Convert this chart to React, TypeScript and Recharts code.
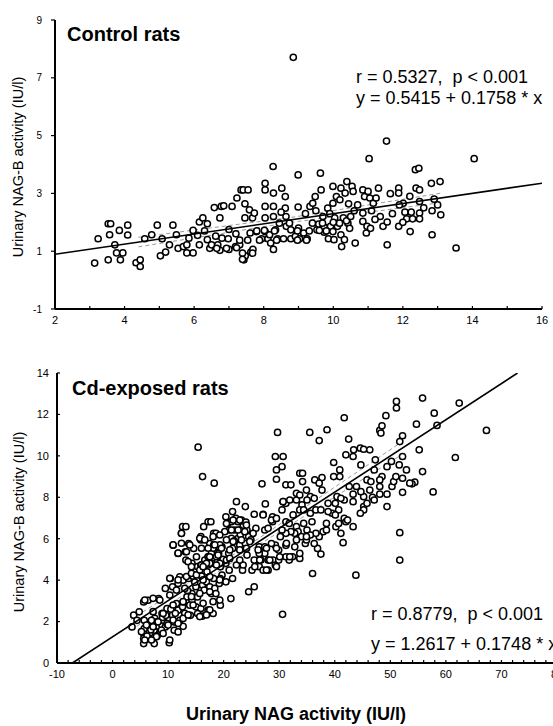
import React from 'react';
import { ScatterChart, Scatter, XAxis, YAxis } from 'recharts';

// ---------- DATA ----------
const controlPoints: [number, number][] = [
  [3.14,0.59],[3.24,1.43],[3.53,1.95],[3.6,1.95],[3.57,1.57],[3.53,0.7],[3.72,1.22],[3.77,0.94],[3.85,1.72],[3.88,0.7],
  [3.95,0.94],[4.09,1.9],[4.09,1.56],[4.33,0.6],[4.45,0.7],[4.45,0.47],[4.58,1.43],[4.78,1.57],[4.94,1.9],[5.03,0.84],
  [5.08,1.43],[5.18,0.97],[5.29,1.22],[5.39,1.9],[5.49,1.57],[5.54,1.1],[5.69,1.16],[5.79,0.94],[5.79,1.22],[5.97,0.94],
  [5.97,1.72],[6.15,1.22],[6.15,2.01],[6.25,2.15],[6.38,1.95],[6.38,1.4],[6.45,1.1],[6.5,1.22],[6.58,2.51],[6.62,1.52],
  [6.68,1.22],[6.74,2.15],[6.78,2.55],[6.74,1.03],[6.85,2.57],[6.98,1.43],[7.0,1.06],[7.09,2.55],[7.19,1.16],[7.23,2.84],
  [7.31,1.22],[7.35,3.12],[7.41,3.12],[7.46,2.64],[7.43,0.7],[7.46,2.15],[7.47,0.84],[7.55,3.12],[7.59,2.43],[7.61,1.63],
  [7.63,0.97],[7.68,2.15],[7.69,1.06],[7.73,2.32],[7.79,1.68],[7.94,1.43],[8.04,3.35],[8.04,3.12],[8.04,2.55],[8.04,2.15],
  [8.04,1.68],[8.12,1.43],[8.17,1.57],[8.2,1.28],[8.27,3.93],[8.28,3.01],[8.28,2.55],[8.28,2.2],[8.28,1.06],[8.34,1.74],
  [8.4,1.43],[8.52,3.18],[8.57,1.43],[8.62,2.89],[8.62,2.49],[8.64,2.2],[8.65,1.86],[8.78,1.43],[8.78,1.74],[8.85,7.71],
  [8.91,1.51],[8.99,3.64],[8.99,2.53],[9.0,1.8],[9.03,1.43],[9.15,1.63],[9.25,1.43],[9.33,2.55],[9.41,2.66],[9.48,2.89],
  [9.53,1.74],[9.58,1.94],[9.63,3.7],[9.65,3.12],[9.7,2.2],[9.74,1.83],[9.74,1.66],[9.84,2.49],[9.86,1.43],[9.92,1.86],
  [9.99,3.24],[9.99,2.66],[9.99,1.68],[10.02,1.4],[10.04,2.15],[10.09,2.89],[10.12,1.86],[10.19,2.78],[10.22,3.18],[10.22,1.57],
  [10.24,1.16],[10.29,2.15],[10.32,1.4],[10.34,3.01],[10.39,3.41],[10.42,1.97],[10.44,2.64],[10.47,1.79],[10.54,3.24],[10.57,3.07],
  [10.63,1.28],[10.85,3.12],[10.85,2.32],[10.85,2.03],[10.9,2.89],[10.95,1.63],[10.97,1.86],[11.0,3.07],[11.03,4.2],[11.05,2.84],
  [11.07,1.79],[11.15,2.66],[11.23,2.84],[11.3,3.18],[11.35,2.2],[11.43,1.86],[11.53,4.81],[11.55,2.01],[11.55,1.22],[11.64,2.99],
  [11.88,3.18],[11.88,3.01],[11.88,1.86],[12.01,2.66],[12.06,2.35],[12.11,2.12],[12.21,1.68],[12.24,2.35],[12.28,2.12],[12.36,3.82],
  [12.38,3.18],[12.46,3.87],[12.48,3.12],[12.48,2.72],[12.48,2.32],[12.48,2.12],[12.82,3.35],[12.84,2.4],[12.84,1.57],[13.07,3.41],
  [13.09,2.26],[13.53,1.11],[14.05,4.2],
  [7.31,1.38],[7.54,1.38],[7.88,1.38],[8.37,1.38],[8.97,1.38],[9.23,1.38],[7.8,1.7],[8.02,1.72],[8.31,1.7],[8.97,1.7],
  [9.31,1.7],[9.6,1.72],[9.8,1.7],[8.45,1.97],[8.74,1.97],[9.4,1.97],[9.69,1.97],[10.18,1.97],[10.38,2.05],[6.65,1.1],
  [6.93,1.1],[7.22,1.12],[7.39,0.93],[7.68,0.93],[7.39,0.72],[10.6,2.4],[10.7,2.6],[11.1,2.4],[11.9,2.6],[12.2,2.9],
  [9.9,2.3],[9.5,2.4],[9.2,2.3],[8.5,2.35],[6.3,1.7],[6.1,1.55],[5.85,1.45],[7.0,1.75],[7.2,1.6],[6.8,1.45],
  [10.0,2.0],[10.5,2.2],[11.2,2.1],[11.7,2.3],[12.0,2.0],[12.6,2.5],[13.0,2.6],[12.9,2.8],
];

const cdPoints: [number, number][] = [
  [15.4,10.42],[16.2,9.0],[18.3,8.68],[29.7,11.13],[29.3,9.97],[30.7,9.97],[30.5,9.48],[29.5,9.32],[29.5,8.87],[26.9,8.65],
  [27.5,7.68],[27.1,7.18],[25.5,7.18],[35.5,11.13],[37.2,10.74],[38.6,11.26],[41.7,11.84],[42.5,10.81],[42.0,10.05],[43.3,9.97],
  [43.4,10.29],[44.6,10.37],[45.2,10.32],[46.3,10.29],[39.8,9.68],[40.9,9.32],[39.8,9.0],[40.9,9.0],[44.7,9.56],[33.7,9.16],
  [34.2,9.16],[34.2,8.76],[36.4,8.84],[37.7,8.95],[31.2,8.6],[32.1,8.6],[47.3,9.81],[48.1,11.23],[48.5,11.45],[48.3,11.1],
  [49.2,11.94],[51.1,12.63],[51.1,12.31],[52.2,10.97],[51.7,10.69],[52.2,9.97],[51.6,9.56],[54.7,11.53],[55.8,12.79],[55.2,10.29],
  [55.8,9.24],[57.9,12.06],[58.4,11.47],[62.4,12.55],[61.7,9.92],[67.3,11.23],[57.7,8.26],[52.2,8.24],[54.4,8.73],[53.9,8.65],
  [49.4,8.15],[48.1,8.15],[48.5,9.0],[48.1,8.84],[49.4,7.55],[45.2,7.55],[45.2,7.39],[46.3,8.35],[46.8,8.0],[45.2,8.03],
  [44.7,8.27],[43.3,8.15],[43.3,7.79],[51.7,6.29],[51.7,4.97],[43.8,4.24],[36.0,4.32],[30.6,2.35],[41.7,7.87],[41.7,6.98],
  [42.0,6.82],[41.1,6.26],[41.5,5.81],[40.2,6.58],[37.9,6.34],[37.2,6.1],[37.7,8.35],[37.2,8.68],[38.8,7.71],[40.1,7.71],
  [40.4,8.03],[40.7,7.39],[39.5,7.23],[41.1,7.95],[35.6,8.03],[36.3,7.95],[35.0,7.87],[33.1,8.19],[33.1,7.87],[34.1,7.63],
  [33.7,7.39],[35.6,7.23],[35.9,6.82],[34.4,6.74],[35.0,6.42],[33.1,6.58],[33.4,6.34],[34.0,6.1],[32.8,6.26],[32.1,6.34],
  [31.2,6.26],[36.9,5.53],[37.5,5.26],[33.7,5.05],[32.4,5.13],[31.8,4.97],[31.2,5.68],[29.9,5.45],[29.3,5.69],[28.6,5.77],
  [28.9,4.97],[29.3,4.73],[28.0,4.97],[27.4,5.29],[26.7,4.97],[26.4,5.29],[26.4,5.61],[27.4,5.61],[30.2,6.1],[30.5,6.42],
  [31.2,6.82],[30.5,7.39],[30.7,7.79],[31.2,7.71],[28.8,7.06],[28.8,6.82],[27.4,6.42],[28.0,6.5],[25.8,6.5],[25.1,4.48],
  [25.5,3.68],[24.5,3.44],[23.4,4.48],[23.5,4.73],[21.6,4.08],[21.3,3.11],[19.4,2.79],[18.1,2.39],[17.2,2.55],[16.1,2.26],
  [10.2,0.98],
  [12.6,6.58],[13.2,6.58],[12.4,6.26],[10.9,5.69],[11.8,5.29],[13.1,5.37],[13.2,4.97],[13.7,5.77],[14.3,4.81],[14.6,5.53],
  [15.3,4.65],[15.9,5.94],[15.9,6.1],[16.4,6.58],[17.2,6.82],[17.7,6.82],[18.2,6.26],[18.6,6.26],[17.5,5.77],[18.2,5.69],
  [18.6,5.61],[19.7,5.61],[19.1,5.29],[17.8,5.29],[17.2,5.13],[16.6,4.97],[15.9,4.73],[17.2,4.73],[17.8,4.81],[19.4,4.65],
  [19.7,4.24],[19.4,4.08],[20.4,7.06],[20.7,6.74],[21.0,6.42],[21.4,6.02],[21.4,6.82],[21.6,7.31],[22.3,7.79],[22.2,6.98],
  [22.6,6.82],[23.2,6.9],[23.9,7.55],[23.5,6.58],[22.9,6.42],[22.6,6.02],[22.9,5.69],[21.6,5.53],[22.0,6.42],[24.2,6.42],
  [24.5,6.1],[23.9,5.77],[24.9,5.94],[24.2,5.21],
  [5.6,1.42],[5.6,0.94],[5.6,1.18],[5.7,1.66],[6.4,1.9],[6.7,1.18],[7.5,0.94],[7.6,1.26],[7.5,1.58],[8.3,1.77],
  [8.6,1.5],[8.9,1.82],[9.2,2.06],[9.5,1.74],[10.2,2.15],[9.8,1.9],[10.8,2.31],[11.1,1.98],[11.1,1.58],[11.8,1.5],
  [12.7,1.77],[12.1,2.06],[11.8,2.55],[12.6,2.71],[11.5,2.87],[12.7,2.95],[13.4,3.19],[14.3,3.35],[14.3,3.03],[15.3,3.19],
  [15.9,3.52],[15.0,3.68],[16.2,3.76],[16.9,3.92],[16.5,3.52],[17.5,3.68],[17.8,3.35],[18.4,3.6],[18.6,3.35],[18.2,4.08],
  [19.2,3.84],[15.0,2.71],[15.9,2.63],[13.9,2.79],[15.3,2.39],[9.8,2.63],[8.9,2.39],[7.6,2.15],[7.0,2.06],[5.7,2.06],
  [5.6,2.95],[6.4,3.03],[8.3,3.11],[9.5,3.6],[10.4,4.08],[10.8,3.68],[11.8,3.84],[12.1,4.16],[12.7,4.0],[13.7,4.08],
  [14.5,4.19],[3.8,2.31],[4.8,2.47],[3.5,1.74],[4.4,2.06],
  [20.4,3.92],[21.0,4.48],[20.4,4.81],[22.3,4.73],[22.9,4.97],[25.5,4.97],[26.4,4.65],[27.1,4.48],[28.0,4.48],[29.9,4.97],
  [31.2,5.13],[32.8,5.61],[34.7,5.77],[36.3,5.77],
  [31.8,6.74],[32.5,7.15],[34.4,7.39],[36.6,7.39],[37.5,7.39],[38.8,7.31],[40.1,7.15],[42.6,8.52],[43.9,8.52],[45.8,8.84],
  [47.1,9.32],[46.5,8.76],[49.4,9.48],[50.2,9.73],
  [40.7,6.74],[42.3,6.9],[43.3,6.58],[44.6,7.23],[45.8,7.71],[47.1,7.87],[48.1,8.52],[50.3,8.52],[50.6,8.76],[51.0,9.0],
  [52.9,9.32],[53.5,8.68],[52.2,8.92],[38.5,6.42],[38.5,6.74],[36.6,6.26],[35.6,6.18],[34.9,5.94],
  [6.2,1.3],[6.9,1.6],[8.0,1.3],[8.1,2.0],[9.0,2.2],[9.6,2.3],[10.5,2.6],[11.3,2.4],[13.0,2.4],[14.0,2.3],
  [13.5,3.5],[14.8,3.9],[16.0,4.2],[17.0,4.4],[18.9,4.9],[19.9,5.0],[20.9,5.3],[21.9,5.9],[23.0,6.2],[24.0,6.8],
  [12.4,6.26],[10.9,5.7],[12.4,5.78],[13.9,5.7],[15.7,6.02],[16.0,5.54],[11.8,5.3],[13.3,5.37],[15.1,5.13],[17.2,5.13],
  [18.1,5.54],[19.3,5.7],[18.7,5.13],[13.6,4.89],[14.2,4.65],[16.0,4.73],[17.5,4.81],[19.3,4.81],[20.5,4.97],[10.3,4.09],
  [11.8,4.01],[13.3,4.17],[14.2,4.33],[15.1,4.25],[16.3,4.01],[17.5,4.17],[19.3,4.01],[5.8,3.04],[7.3,3.12],[8.5,3.04],
  [10.3,3.28],[11.5,3.52],[13.0,3.6],[7.3,2.48],[9.1,2.39],[10.9,2.8],[12.7,2.96],[14.2,3.2],[15.7,3.36],[17.5,3.44],
  [14.5,2.8],[16.3,2.88],[18.1,2.96],[19.3,3.04],[15.7,2.24],[17.5,2.56],[16.9,2.32],[5.2,1.51],[6.1,1.83],[7.3,1.75],
  [8.2,1.99],[8.8,1.59],[10.0,1.83],[10.9,2.07],[11.8,1.91],[12.7,2.15],[13.6,2.32],[7.9,1.27],[10.3,1.11],[7.0,1.11],
  [5.8,1.11],[9.1,1.43],
  [20.5,6.73],[21.7,6.9],[22.9,6.9],[24.1,6.66],[21.4,6.42],[22.6,6.42],[23.8,6.34],[25.3,6.26],[20.2,6.34],[19.3,6.18],
  [18.1,6.1],[16.6,5.94],[20.5,5.94],[21.7,5.86],[23.2,5.94],[24.7,5.86],[18.4,5.7],[17.2,5.54],[19.6,5.54],[21.1,5.46],
  [22.9,5.46],[24.1,5.54],[17.5,5.13],[19.0,5.21],[21.1,5.05],[16.9,4.81],[18.7,4.73],[15.7,4.49],[16.3,4.65],
  [26.2,5.46],[27.7,5.54],[29.5,5.54],[31.3,5.78],[33.1,5.94],[34.9,6.1],[26.5,4.97],[28.3,4.97],[30.1,5.13],[31.9,5.13],
  [33.7,5.29],[25.6,4.65],[27.7,4.49],[29.5,4.65],
  [30.7,7.79],[31.9,7.87],[33.7,8.11],[34.9,8.35],[27.1,7.15],[28.6,6.9],[29.5,6.98],
];

const controlFit: [number, number][] = [[2, 0.893], [16, 3.354]];
const controlBandUpper: [number, number][] = [[4.4, 1.48], [8.8, 2.17], [13.1, 3.01]];
const controlBandLower: [number, number][] = [[4.4, 1.15], [8.8, 2.0], [13.1, 2.68]];
const cdFit: [number, number][] = [[-7.22, 0], [72.9, 14]];
const cdBandUpper: [number, number][] = [[3.3, 2.1], [25, 5.78], [52.5, 10.75]];
const cdBandLower: [number, number][] = [[3.3, 1.58], [25, 5.48], [52.5, 10.13]];

const controlXTicks = [2,3,4,5,6,7,8,9,10,11,12,13,14,15,16];
const controlYTicks = [-1, 1, 3, 5, 7, 9];
const cdXTicks = [-10,-8,-6,-4,-2,0,2,4,6,8,10,12,14,16,18,20,22,24,26,28,30,32,34,36,38,40,42,44,46,48,50,52,54,56,58,60,62,64,66,68,70,72,74,76,78,80];
const cdYTicks = [0, 2, 4, 6, 8, 10, 12, 14];

const FONT = '"Liberation Sans", Arial, Helvetica, sans-serif';

const toXY = (arr: [number, number][]) => arr.map(([x, y]) => ({ x, y }));

const circle = (props: any) => {
  const { cx, cy } = props;
  if (cx == null || cy == null) return <g />;
  return <circle cx={cx} cy={cy} r={3.1} fill="#fff" stroke="#000" strokeWidth={1.5} />;
};
const noShape = () => <g />;

const makeXTick = (every: number, fs: number) => (props: any) => {
  const { x, y, payload } = props;
  const v = payload.value;
  const major = Math.abs(v % every) < 1e-9;
  return (
    <g>
      <line x1={x} x2={x} y1={y} y2={y - 3} stroke="#000" strokeWidth={1.2} />
      {major && (
        <text x={x} y={y + 15} textAnchor="middle" fontSize={fs} fontFamily={FONT} fill="#000">
          {v}
        </text>
      )}
    </g>
  );
};

const makeYTick = (gap: number, fs: number, outward: boolean) => (props: any) => {
  const { x, y, payload } = props;
  return (
    <g>
      <line x1={x} x2={outward ? x - 4 : x + 3} y1={y} y2={y} stroke="#000" strokeWidth={1.2} />
      <text x={x - gap} y={y} dy="0.35em" textAnchor="end" fontSize={fs} fontFamily={FONT} fill="#000">
        {payload.value}
      </text>
    </g>
  );
};

const fitLine = { stroke: '#000', strokeWidth: 1.6 };
const bandLine = { stroke: '#9a9a9a', strokeWidth: 1, strokeDasharray: '4 3' };

export default function App() {
  return (
    <div style={{ position: 'absolute', left: 0, top: 0, width: 553, height: 726, overflow: 'hidden', background: '#fff', fontFamily: FONT }}>
      <div style={{ position: 'absolute', left: 0, top: 0 }}>
        <ScatterChart width={553} height={340} margin={{ top: 20, right: 11, left: 10, bottom: 6 }}>
          <XAxis
            type="number"
            dataKey="x"
            domain={[2, 16]}
            ticks={controlXTicks}
            interval={0}
            height={25}
            tickSize={0}
            tickMargin={0}
            tickLine={false}
            axisLine={{ stroke: '#000', strokeWidth: 2 }}
            tick={makeXTick(2, 11)}
            allowDataOverflow
          />
          <YAxis
            type="number"
            dataKey="y"
            domain={[-1, 9]}
            ticks={controlYTicks}
            interval={0}
            width={45}
            tickSize={0}
            tickMargin={0}
            tickLine={false}
            axisLine={{ stroke: '#000', strokeWidth: 2 }}
            tick={makeYTick(13, 10, true)}
            allowDataOverflow
          />
          <Scatter data={toXY(controlBandUpper)} line={bandLine} shape={noShape} isAnimationActive={false} />
          <Scatter data={toXY(controlBandLower)} line={bandLine} shape={noShape} isAnimationActive={false} />
          <Scatter data={toXY(controlPoints)} shape={circle} isAnimationActive={false} />
          <Scatter data={toXY(controlFit)} line={fitLine} shape={noShape} isAnimationActive={false} />
        </ScatterChart>
      </div>
      <div style={{ position: 'absolute', left: 0, top: 330 }}>
        <ScatterChart width={600} height={360} margin={{ top: 43, right: 43, left: 12, bottom: 2 }}>
          <XAxis
            type="number"
            dataKey="x"
            domain={[-10, 80]}
            ticks={cdXTicks}
            interval={0}
            height={25}
            tickSize={0}
            tickMargin={0}
            tickLine={false}
            axisLine={{ stroke: '#000', strokeWidth: 2 }}
            tick={makeXTick(10, 11)}
            allowDataOverflow
          />
          <YAxis
            type="number"
            dataKey="y"
            domain={[0, 14]}
            ticks={cdYTicks}
            interval={0}
            width={45}
            tickSize={0}
            tickMargin={0}
            tickLine={false}
            axisLine={{ stroke: '#000', strokeWidth: 2 }}
            tick={makeYTick(8, 11, false)}
            allowDataOverflow
          />
          <Scatter data={toXY(cdBandUpper)} line={bandLine} shape={noShape} isAnimationActive={false} />
          <Scatter data={toXY(cdBandLower)} line={bandLine} shape={noShape} isAnimationActive={false} />
          <Scatter data={toXY(cdPoints)} shape={circle} isAnimationActive={false} />
          <Scatter data={toXY(cdFit)} line={fitLine} shape={noShape} isAnimationActive={false} />
        </ScatterChart>
      </div>
      <svg width={553} height={726} style={{ position: 'absolute', left: 0, top: 0, pointerEvents: 'none' }}>
        <g fontFamily={FONT} fill="#000">
          <text x={67} y={41} fontSize={20} fontWeight="bold">Control rats</text>
          <text x={356} y={83} fontSize={18} style={{ whiteSpace: 'pre' }}>{'r = 0.5327,  p < 0.001'}</text>
          <text x={356} y={104} fontSize={18} style={{ whiteSpace: 'pre' }}>{'y = 0.5415 + 0.1758 * x'}</text>
          <text x={72} y={395} fontSize={20} fontWeight="bold">Cd-exposed rats</text>
          <text x={371} y={620} fontSize={18} style={{ whiteSpace: 'pre' }}>{'r = 0.8779,  p < 0.001'}</text>
          <text x={371} y={650} fontSize={18} style={{ whiteSpace: 'pre' }}>{'y = 1.2617 + 0.1748 * x'}</text>
          <text x={18} y={167} fontSize={14.5} textAnchor="middle" dy="0.35em" transform="rotate(-90 18 167)">Urinary NAG-B activity (IU/l)</text>
          <text x={19} y={522} fontSize={14.5} textAnchor="middle" dy="0.35em" transform="rotate(-90 19 522)">Urinary NAG-B activity (IU/l)</text>
          <text x={296} y={720} fontSize={18} fontWeight="bold" textAnchor="middle">Urinary NAG activity (IU/l)</text>
        </g>
      </svg>
    </div>
  );
}
